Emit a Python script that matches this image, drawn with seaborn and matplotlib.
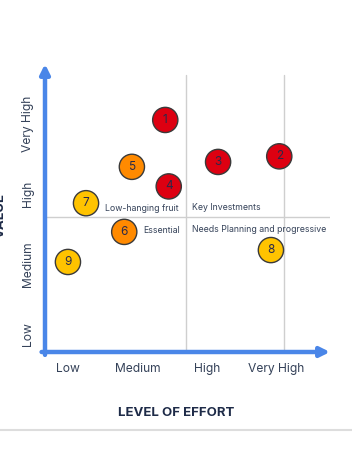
import pandas as pd
import matplotlib.pyplot as plt
import seaborn as sns
from matplotlib.lines import Line2D

# effort / value on a 1 (Low) .. 4 (Very High) scale
ids = ['1', '2', '3', '4', '5', '6', '7', '8', '9']
effort = [2.40, 4.04, 3.16, 2.45, 1.92, 1.81, 1.26, 3.92, 1.00]
value = [4.06, 3.54, 3.46, 3.11, 3.39, 2.46, 2.87, 2.20, 2.03]
priority = ['high', 'high', 'high', 'high', 'mid', 'mid', 'low', 'low', 'low']

levels = ['Low', 'Medium', 'High', 'Very High']
level_pos = [1, 2, 3, 4]
v_grid = [2.70, 4.11]
h_grid = 2.67

palette = {'high': '#DD0011', 'mid': '#FF8A00', 'low': '#FFC300'}
text_col = '#354259'
blue = '#4A86E8'

df = pd.DataFrame({'id': ids, 'effort': effort, 'value': value, 'priority': priority})

sns.set_style('white')
plt.rcParams['font.family'] = ['Inter', 'DejaVu Sans']

fig = plt.figure(figsize=(3.52, 4.66), dpi=100)
ax = fig.add_axes([45 / 352, 1 - 352 / 466, 285 / 352, 288 / 466])
ax.set_xlim(0.67, 4.77)
ax.set_ylim(0.743, 4.86)

for x in v_grid:
    ax.plot([x, x], [0.743, 4.7], color='#cfcfcf', lw=1, zorder=1)
ax.plot([0.67, 4.77], [h_grid, h_grid], color='#cfcfcf', lw=1, zorder=1)

sns.scatterplot(data=df, x='effort', y='value', hue='priority', palette=palette,
                s=330, edgecolor='#3a3a3a', linewidth=1, legend=False, zorder=3, ax=ax)
for i, row in df.iterrows():
    ax.text(row['effort'], row['value'], row['id'], ha='center', va='center',
            fontsize=8.5, color='#2A2A4A', zorder=4)

# quadrant labels
ax.text(v_grid[0] - 0.11, h_grid + 0.13, 'Low-hanging fruit', ha='right', va='center', fontsize=6.3, color=text_col)
ax.text(v_grid[0] + 0.08, h_grid + 0.14, 'Key Investments', ha='left', va='center', fontsize=6.3, color=text_col)
ax.text(v_grid[0] - 0.09, h_grid - 0.19, 'Essential', ha='right', va='center', fontsize=6.3, color=text_col)
ax.text(v_grid[0] + 0.08, h_grid - 0.17, 'Needs Planning and progressive', ha='left', va='center', fontsize=6.3, color=text_col)

# axis arrows
ax.annotate('', xy=(1.0, 0.0), xytext=(-0.012, 0.0), xycoords='axes fraction',
            arrowprops=dict(arrowstyle='-|>', color=blue, lw=3.2, mutation_scale=14, shrinkA=0, shrinkB=0))
ax.annotate('', xy=(0.0, 1.0), xytext=(0.0, -0.01), xycoords='axes fraction',
            arrowprops=dict(arrowstyle='-|>', color=blue, lw=3.2, mutation_scale=14, shrinkA=0, shrinkB=0))

for s in ax.spines.values():
    s.set_visible(False)
ax.set_xticks(level_pos)
ax.set_xticklabels(levels, fontsize=8.7, color=text_col)
ax.set_yticks(level_pos)
ax.set_yticklabels(levels, fontsize=8.7, color=text_col, rotation=90, va='center')
ax.tick_params(axis='x', length=0, pad=8)
ax.tick_params(axis='y', length=0, pad=8)
ax.set_xlabel('')
ax.set_ylabel('')

fig.text(176 / 352, 1 - 413 / 466, 'LEVEL OF EFFORT', ha='center', va='center',
         fontsize=9.5, fontweight='bold', color='#1E2B48')
fig.text(1 / 352, 1 - 215 / 466, 'VALUE', ha='center', va='center', rotation=90,
         fontsize=9.5, fontweight='bold', color='#1E2B48')
fig.add_artist(Line2D([0, 1], [1 - 430 / 466, 1 - 430 / 466], color='#dddddd', lw=1.5))

fig.savefig('out.png', dpi=100)
